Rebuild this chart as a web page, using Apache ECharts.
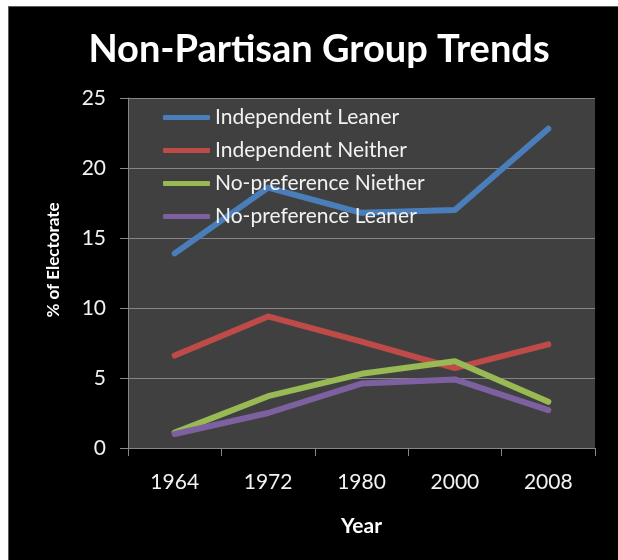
<!DOCTYPE html>
<html>
<head>
<meta charset="utf-8">
<script src="https://cdn.jsdelivr.net/npm/echarts@6/dist/echarts.min.js"></script>
<style>
  html, body { margin: 0; padding: 0; background: #ffffff; }
  #frame {
    position: absolute; left: 8px; top: 6px; width: 620px; height: 560px;
    background: #000000; border-top: 1px solid #5a5a5a; border-left: 1px solid #5a5a5a;
  }
  #chart { position: absolute; left: 0; top: 0; width: 618px; height: 560px; }
</style>
</head>
<body>
<div id="frame"></div>
<div id="chart"></div>
<script>
// Survey years on the category axis
const years = ['1964', '1972', '1980', '2000', '2008'];

// Share of the electorate (%) per group
const independentLeaner = [13.9, 18.6, 16.8, 17.0, 22.8];
const independentNeither = [6.6, 9.4, 7.6, 5.7, 7.4];
const noPreferenceNiether = [1.1, 3.7, 5.3, 6.2, 3.3];
const noPreferenceLeaner = [1.0, 2.5, 4.6, 4.9, 2.7];

const seriesNames = ['Independent Leaner', 'Independent Neither', 'No-preference Niether', 'No-preference Leaner'];
const seriesData = [independentLeaner, independentNeither, noPreferenceNiether, noPreferenceLeaner];
const colors = ['#4a7ebb', '#be4b48', '#98b954', '#7d60a0'];

const FONT = 'Lato';

const chart = echarts.init(document.getElementById('chart'), null, { renderer: 'canvas' });

chart.setOption({
  backgroundColor: 'transparent',
  animation: false,
  color: colors,
  title: {
    text: 'Non-Partisan Group Trends',
    left: 314,
    top: 26,
    textAlign: 'center',
    textStyle: { color: '#ffffff', fontFamily: FONT, fontWeight: 'bold', fontSize: 38 }
  },
  legend: {
    data: seriesNames,
    orient: 'vertical',
    left: 163,
    top: 107,
    padding: 0,
    itemWidth: 47,
    itemHeight: 5,
    itemGap: 12,
    icon: 'roundRect',
    textStyle: { color: '#f2f2f2', fontFamily: FONT, fontSize: 21, lineHeight: 20 }
  },
  grid: {
    left: 128, right: 23, top: 98, bottom: 112,
    show: true, backgroundColor: '#404040', borderWidth: 0
  },
  xAxis: {
    type: 'category',
    data: years,
    boundaryGap: true,
    name: 'Year',
    nameLocation: 'middle',
    nameGap: 68,
    nameTextStyle: { color: '#ffffff', fontFamily: FONT, fontWeight: 'bold', fontSize: 21 },
    axisLine: { lineStyle: { color: '#868686', width: 1 } },
    axisTick: { show: true, length: 8, alignWithLabel: false, lineStyle: { color: '#868686' } },
    axisLabel: { color: '#f2f2f2', fontFamily: FONT, fontSize: 21, margin: 24 },
    splitLine: { show: false }
  },
  yAxis: {
    type: 'value',
    min: 0, max: 25, interval: 5,
    name: '% of Electorate',
    nameLocation: 'middle',
    nameRotate: 90,
    nameGap: 66,
    nameTextStyle: {
      color: '#ffffff', fontFamily: FONT, fontWeight: 'bold', fontSize: 17,
      padding: [0, 0, 0, 26]
    },
    axisLine: { show: true, lineStyle: { color: '#868686', width: 1 } },
    axisTick: { show: true, length: 8, lineStyle: { color: '#868686' } },
    axisLabel: { color: '#f2f2f2', fontFamily: FONT, fontSize: 21, margin: 22 },
    splitLine: { lineStyle: { color: '#858585', width: 1 } }
  },
  series: seriesNames.map((name, i) => ({
    name: name,
    type: 'line',
    data: seriesData[i],
    symbol: 'none',
    lineStyle: { width: 6, color: colors[i], cap: 'round', join: 'round' },
    itemStyle: { color: colors[i] }
  }))
});
</script>
</body>
</html>
